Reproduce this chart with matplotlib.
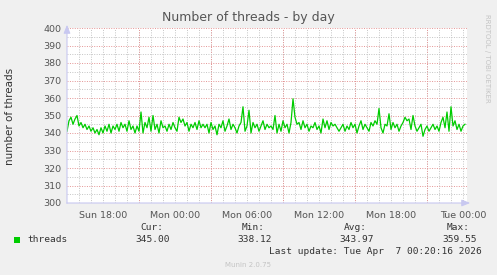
#!/usr/bin/env python
# -*- coding: utf-8 -*-
import matplotlib
matplotlib.use('Agg')
import matplotlib.pyplot as plt
import numpy as np

## data: one sample every 10 min, hours relative to Tue 00:00
threads = [
    341, 347, 349, 345, 348, 350, 344, 346, 343, 345, 342, 344, 341, 343, 340, 342, 339, 343,
    340, 344, 341, 345, 340, 344, 342, 345, 341, 346, 343, 345, 341, 347, 342, 344, 340,
    344, 341, 352, 340, 346, 343, 349, 341, 350, 342, 345, 340, 347, 343, 344, 341, 345,
    342, 346, 343, 341, 349, 346, 348, 344, 346, 341, 345, 343, 346, 342, 347, 343, 345,
    343, 345, 340, 346, 342, 344, 339, 345, 343, 347, 341, 344, 348, 342, 345, 343, 340,
    344, 346, 355, 341, 344, 353, 340, 346, 343, 345, 341, 344, 347, 342, 345, 343, 344,
    342, 350, 340, 345, 341, 347, 343, 345, 340, 346, 359.55, 349, 345, 346, 342, 347, 343,
    345, 341, 344, 343, 346, 342, 344, 340, 348, 343, 347, 342, 346, 344, 345, 343, 341,
    343, 345, 341, 344, 342, 346, 343, 345, 340, 344, 347, 342, 345, 343, 341, 346, 344,
    347, 345, 354, 343, 340, 345, 344, 351, 342, 346, 343, 345, 341, 344, 346, 349, 347,
    348, 342, 350, 344, 341, 343, 345, 338.12, 342, 344, 341, 343, 345, 342, 344, 341, 346,
    349, 343, 352, 341, 355, 344, 347, 342, 345, 341, 344, 345,
]
t_start, t_end = -33.0, 0.333
step = 1.0 / 6
label_hours = [-30, -24, -18, -12, -6, 0]
label_text = ['Sun 18:00', 'Mon 00:00', 'Mon 06:00', 'Mon 12:00', 'Mon 18:00', 'Tue 00:00']
stats_head = ['Cur:', 'Min:', 'Avg:', 'Max:']
stats_vals = ['345.00', '338.12', '343.97', '359.55']

t = t_start + np.arange(len(threads)) * step

W, H = 497, 275
fig = plt.figure(figsize=(W / 100., H / 100.), dpi=100, facecolor='#f0f0f0')
L, R, T, B = 67, 467, 28, 203
ax = fig.add_axes([L / W, 1 - B / H, (R - L) / W, (B - T) / H])
ax.set_facecolor('white')
ax.set_xlim(t_start, t_end)
ax.set_ylim(300, 400)

## grid
minor = dict(color='#c4c4c4', lw=0.7, ls=(0, (1, 1.5)), zorder=1)
major = dict(color='#e49494', lw=0.7, ls=(0, (1, 1.5)), zorder=1)
for h in range(-32, 1):
    ax.axvline(h, **minor)
for h in range(-27, 1, 6):
    ax.axvline(h, **major)
for v in range(305, 400, 10):
    ax.axhline(v, **minor)
for v in range(300, 401, 10):
    ax.axhline(v, **major)

ax.plot(t, threads, color='#00cc00', lw=0.9, zorder=3)

for s in ax.spines.values():
    s.set_visible(False)
ax.set_xticks(label_hours)
ax.set_xticklabels(label_text)
ax.set_yticks(range(300, 401, 10))
ax.tick_params(length=0, labelsize=6.8, colors='#555555', pad=4)
ax.tick_params(axis='x', pad=6)

## axis lines with arrows
ax_col = '#c8c8f0'
ax.annotate('', xy=(L / W, 1 - 22 / H), xytext=(L / W, 1 - (B + 3) / H), xycoords='figure fraction',
            arrowprops=dict(arrowstyle='-|>,head_length=0.5,head_width=0.2', color=ax_col, lw=0.8))
ax.annotate('', xy=(473 / W, 1 - B / H), xytext=(64 / W, 1 - B / H), xycoords='figure fraction',
            arrowprops=dict(arrowstyle='-|>,head_length=0.5,head_width=0.2', color=ax_col, lw=0.8))

## texts
fig.text(248 / W, 1 - 18 / H, 'Number of threads - by day', ha='center', va='center', fontsize=9, color='#555555')
fig.text(10 / W, 1 - 116 / H, 'number of threads', ha='center', va='center', rotation=90, fontsize=7.5, color='#333333')
fig.text(487 / W, 1 - 58 / H, 'RRDTOOL / TOBI OETIKER', ha='center', va='center', rotation=270, fontsize=5, color='#c4c4c4')

mono = 'DejaVu Sans Mono'
fig.patches.append(matplotlib.patches.Rectangle((14 / W, 1 - 243 / H), 6 / W, 6 / H, transform=fig.transFigure,
                                                facecolor='#00cc00', edgecolor='none'))
fig.text(27 / W, 1 - 240 / H, 'threads', ha='left', va='center', family=mono, fontsize=6.8, color='#333333')
for x, hd, v in zip([170, 272, 374, 477], stats_head, stats_vals):
    fig.text((x - 7) / W, 1 - 228 / H, hd, ha='right', va='center', family=mono, fontsize=6.8, color='#333333')
    fig.text(x / W, 1 - 240 / H, v, ha='right', va='center', family=mono, fontsize=6.8, color='#333333')
fig.text(482 / W, 1 - 251 / H, 'Last update: Tue Apr  7 00:20:16 2026', ha='right', va='center', family=mono,
         fontsize=6.8, color='#333333')
fig.text(248 / W, 1 - 265 / H, 'Munin 2.0.75', ha='center', va='center', fontsize=5, color='#c4c4c4')

fig.savefig('out.png', dpi=100, facecolor=fig.get_facecolor())
